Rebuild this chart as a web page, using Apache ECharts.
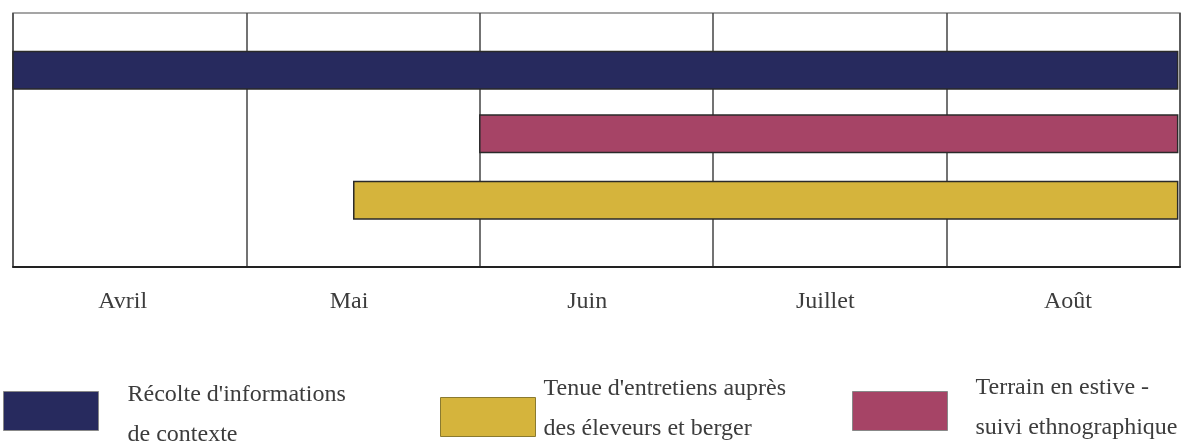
<!DOCTYPE html>
<html>
<head>
<meta charset="utf-8">
<script src="https://cdn.jsdelivr.net/npm/echarts@6/dist/echarts.min.js"></script>
<style>html,body{margin:0;padding:0;background:#fff;}#c{width:1196px;height:443px;}</style>
</head>
<body>
<div id="c"></div>
<script>
// Data
var tasks = ["Récolte d'informations", "Terrain en estive", "Tenue d'entretiens auprès"];
var legendLine1 = ["Récolte d'informations", "Terrain en estive -", "Tenue d'entretiens auprès"];
var legendLine2 = ["de contexte", "suivi ethnographique", "des éleveurs et berger"];
var taskStart = [0, 2.0, 1.46];
var taskEnd = [4.99, 4.99, 4.99];
var taskRow = [0.9, 1.9, 2.95];
var taskColors = ['#272a5e', '#a64466', '#d5b43c'];
var months = ['Avril', 'Mai', 'Juin', 'Juillet', 'Août'];
var monthLabelPos = [0.47, 1.44, 2.46, 3.48, 4.52];

var barThick = 0.59;
var FONT = '"Liberation Serif", "DejaVu Serif", serif';

var chart = echarts.init(document.getElementById('c'));

var series = tasks.map(function (t, i) {
  return {
    type: 'custom',
    name: tasks[i],
    xAxisIndex: 0,
    yAxisIndex: 0,
    itemStyle: { color: taskColors[i], borderColor: '#2a2a2a', borderWidth: 1.5 },
    data: [[taskStart[i], taskEnd[i], taskRow[i]]],
    renderItem: function (params, api) {
      var s = api.coord([api.value(0), api.value(2)]);
      var e = api.coord([api.value(1), api.value(2)]);
      var h = api.size([0, barThick])[1];
      return {
        type: 'rect',
        shape: { x: s[0], y: s[1] - h / 2, width: e[0] - s[0], height: h },
        style: { fill: taskColors[i], stroke: '#2a2a2a', lineWidth: 1.5 }
      };
    }
  };
});

// lead / trail: spacer line heights to nudge the text block relative to the icon
function mkLegend(i, left, top, padLeft, lead, trail, border) {
  return {
    show: true,
    left: left,
    top: top,
    padding: 0,
    orient: 'vertical',
    itemWidth: 95,
    itemHeight: 39,
    selectedMode: false,
    data: [{ name: tasks[i], icon: 'rect', itemStyle: { color: taskColors[i], borderColor: border, borderWidth: 1 } }],
    formatter: function () {
      var s = '';
      if (lead) s += '{s| }\n';
      s += '{a|' + legendLine1[i] + '}\n{a|' + legendLine2[i] + '}';
      if (trail) s += '\n{t| }';
      return s;
    },
    textStyle: {
      fontFamily: FONT, fontSize: 24, color: '#3c3c3c', lineHeight: 40,
      padding: [0, 0, 0, padLeft],
      rich: {
        a: { fontFamily: FONT, fontSize: 24, color: '#3c3c3c', lineHeight: 40 },
        s: { fontSize: 4, lineHeight: lead || 1 },
        t: { fontSize: 4, lineHeight: trail || 1 }
      }
    }
  };
}

var option = {
  animation: false,
  backgroundColor: '#fff',
  grid: {
    left: 13, top: 13, right: 16, bottom: 176,
    show: true, borderColor: '#888', borderWidth: 1.5
  },
  xAxis: [
    {
      type: 'value', min: 0, max: 5, interval: 1,
      axisLine: { show: true, onZero: false, lineStyle: { color: '#222', width: 2 } },
      axisTick: { show: false },
      axisLabel: { show: false },
      splitLine: { show: true, lineStyle: { color: '#444', width: 1.5 } }
    },
    {
      type: 'value', min: 0, max: 5, position: 'bottom',
      axisLine: { show: false },
      axisTick: { show: false },
      splitLine: { show: false },
      axisLabel: {
        show: true,
        customValues: monthLabelPos,
        margin: 23,
        fontFamily: FONT, fontSize: 24, color: '#3c3c3c',
        formatter: function (v) {
          var idx = monthLabelPos.indexOf(v);
          return idx >= 0 ? months[idx] : '';
        }
      }
    }
  ],
  yAxis: {
    type: 'value', inverse: true, min: 0, max: 4, show: false,
    splitLine: { show: false }
  },
  legend: [
    mkLegend(0, 3, 367.5, 24, 7, 0, '#888'),
    mkLegend(2, 440, 368.5, 3, 0, 17, '#8a7a30'),
    mkLegend(1, 852, 367.5, 23, 0, 7, '#888')
  ],
  series: series
};
chart.setOption(option);
</script>
</body>
</html>
